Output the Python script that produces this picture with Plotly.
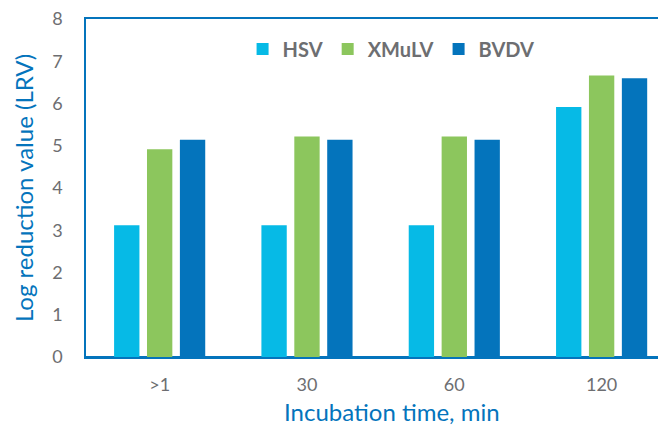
import plotly.graph_objects as go

categories = [">1", "30", "60", "120"]
hsv = [3.12, 3.12, 3.12, 5.92]
xmulv = [4.92, 5.22, 5.22, 6.66]
bvdv = [5.14, 5.14, 5.14, 6.6]

series_names = ["HSV", "XMuLV", "BVDV"]
colors = ["#06BAE6", "#8CC65D", "#0474BC"]

fig = go.Figure()
for name, vals, col in zip(series_names, [hsv, xmulv, bvdv], colors):
    fig.add_trace(go.Bar(x=categories, y=vals, name=name, marker=dict(color=col, line=dict(width=0))))

axis_blue = "#0474BC"
grey = "#6D6E71"

fig.update_layout(
    width=658, height=417,
    margin=dict(l=78, r=0, t=11, b=68, autoexpand=False),
    plot_bgcolor="white", paper_bgcolor="white",
    barmode="group", bargap=0.33, bargroupgap=0.23,
    font=dict(family="Lato", color=grey, size=18),
    legend=dict(orientation="h", x=0.526, xanchor="center", y=0.911, yanchor="middle",
                font=dict(family="Lato", size=20, color=grey, weight="bold"),
                itemwidth=30, bgcolor="rgba(0,0,0,0)"),
    xaxis=dict(
        range=[-0.5, 3.437],
        showline=True, linecolor=axis_blue, linewidth=1.5, mirror=True,
        ticks="outside", ticklen=11, tickcolor="rgba(0,0,0,0)",
        tickfont=dict(size=18, color=grey),
        showgrid=False,
    ),
    yaxis=dict(
        range=[0, 8], dtick=1,
        showline=True, linecolor=axis_blue, linewidth=1.5,
        zeroline=True, zerolinecolor=axis_blue, zerolinewidth=2.5,
        ticks="outside", ticklen=18, tickcolor="rgba(0,0,0,0)",
        tickfont=dict(size=18, color=grey),
        ticklabeloverflow="allow",
        title=dict(text="Log reduction value (LRV)", font=dict(size=24, color=axis_blue), standoff=12),
        showgrid=False,
    ),
    annotations=[dict(
        text="Incubation time, min", xref="paper", yref="paper",
        x=0.5276, y=-0.1627, xanchor="center", yanchor="middle",
        showarrow=False, font=dict(family="Lato", size=24, color=axis_blue),
    )],
)

fig.write_html("out.html")
